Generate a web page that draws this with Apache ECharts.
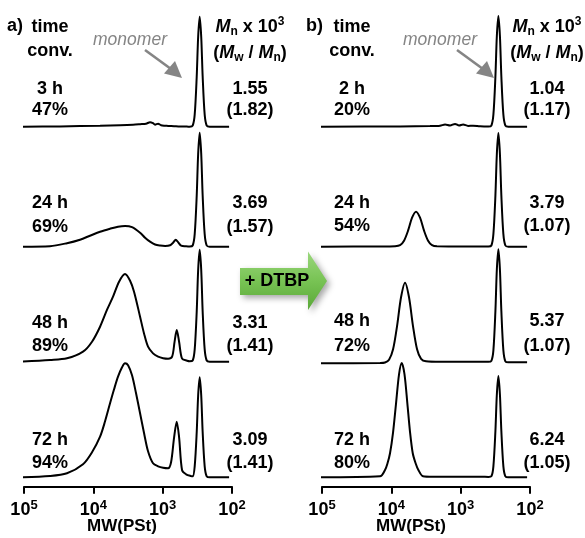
<!DOCTYPE html>
<html><head><meta charset="utf-8">
<script src="https://cdn.jsdelivr.net/npm/echarts@6/dist/echarts.min.js"></script>
<style>html,body{margin:0;padding:0;background:#fff}#c{width:585px;height:538px}</style>
</head><body><div id="c"></div>
<script>
// ---------- data (x = log10 MW, y = relative RI intensity) ----------
const tickExponents = [5, 4, 3, 2];
const axisTitle = 'MW(PSt)';

const timesA = ['3 h', '24 h', '48 h', '72 h'];
const convA  = ['47%', '69%', '89%', '94%'];
const mnA    = ['1.55', '3.69', '3.31', '3.09'];
const pdiA   = ['(1.82)', '(1.57)', '(1.41)', '(1.41)'];

const timesB = ['2 h', '24 h', '48 h', '72 h'];
const convB  = ['20%', '54%', '72%', '80%'];
const mnB    = ['1.04', '3.79', '5.37', '6.24'];
const pdiB   = ['(1.17)', '(1.07)', '(1.07)', '(1.05)'];

const a3h = [[5.058,0],[4.481,0.003],[3.903,0.01],[3.615,0.015],[3.427,0.02],[3.326,0.025],[3.240,0.03],[3.182,0.045],[3.139,0.035],[3.110,0.02],[3.066,0.03],[3.023,0.015],[2.980,0.01],[2.922,0.008],[2.835,0.005],[2.749,0.002],[2.650,0.001],
  [2.610,0],[2.567,0.011],[2.538,0.12],[2.509,0.50],[2.488,0.90],[2.466,1.10],[2.444,0.90],[2.423,0.50],[2.394,0.12],[2.365,0.011],[2.322,0],[2.042,0]];
const a24h = [[5.058,0],[4.625,0.005],[4.380,0.035],[4.192,0.07],[4.048,0.11],[3.903,0.15],[3.759,0.18],[3.644,0.20],[3.543,0.207],[3.442,0.195],[3.326,0.14],[3.254,0.09],[3.182,0.05],[3.110,0.022],[3.037,0.012],[2.965,0.008],[2.893,0.015],[2.850,0.04],[2.811,0.07],[2.778,0.045],[2.734,0.01],[2.662,0.004],
  [2.610,0.002],[2.567,0.012],[2.538,0.125],[2.509,0.51],[2.488,0.93],[2.466,1.14],[2.444,0.93],[2.423,0.51],[2.394,0.125],[2.365,0.012],[2.322,0],[2.042,0]];
const a48h = [[5.058,0],[4.625,0.017],[4.380,0.034],[4.149,0.10],[4.019,0.20],[3.903,0.35],[3.802,0.52],[3.716,0.65],[3.629,0.80],[3.543,0.877],[3.470,0.81],[3.413,0.70],[3.326,0.45],[3.268,0.28],[3.211,0.15],[3.139,0.083],[3.066,0.05],[2.994,0.035],[2.922,0.03],[2.864,0.05],[2.828,0.20],[2.797,0.317],[2.763,0.20],[2.720,0.03],[2.648,0.01],
  [2.610,0.005],[2.567,0.012],[2.538,0.123],[2.509,0.50],[2.488,0.92],[2.466,1.12],[2.444,0.92],[2.423,0.50],[2.394,0.123],[2.365,0.012],[2.322,0],[2.042,0]];
const a72h = [[5.058,0],[4.625,0.013],[4.380,0.04],[4.149,0.13],[4.019,0.25],[3.903,0.406],[3.831,0.56],[3.759,0.74],[3.701,0.88],[3.644,1.006],[3.586,1.10],[3.543,1.14],[3.499,1.12],[3.442,1.02],[3.384,0.84],[3.326,0.64],[3.268,0.44],[3.211,0.26],[3.139,0.14],[3.066,0.11],[2.994,0.095],[2.922,0.09],[2.879,0.15],[2.835,0.40],[2.797,0.556],[2.763,0.40],[2.720,0.07],[2.662,0.03],[2.590,0.012],
  [2.567,0.01],[2.538,0.11],[2.509,0.45],[2.488,0.82],[2.466,1.00],[2.444,0.82],[2.423,0.45],[2.394,0.11],[2.365,0.01],[2.322,0],[2.042,0]];

const b2h = [[5.058,0],[3.874,0.003],[3.442,0.006],[3.297,0.01],[3.225,0.022],[3.153,0.012],[3.081,0.028],[3.023,0.012],[2.965,0.022],[2.893,0.008],[2.821,0.01],[2.720,0.004],
  [2.600,0.002],[2.557,0.011],[2.528,0.12],[2.499,0.50],[2.478,0.91],[2.456,1.107],[2.434,0.91],[2.413,0.50],[2.384,0.12],[2.355,0.011],[2.312,0],[2.042,0]];
const b24h = [[5.058,0],[4.163,0.002],[3.947,0.005],[3.874,0.015],[3.817,0.06],[3.759,0.16],[3.701,0.29],[3.644,0.35],[3.586,0.29],[3.528,0.16],[3.470,0.06],[3.413,0.015],[3.341,0.004],[3.009,0.003],
  [2.600,0.003],[2.557,0.012],[2.528,0.125],[2.499,0.51],[2.478,0.93],[2.456,1.137],[2.434,0.93],[2.413,0.51],[2.384,0.125],[2.355,0.012],[2.312,0],[2.042,0]];
const b48h = [[5.058,0],[4.163,0.003],[4.091,0.008],[4.033,0.035],[3.975,0.14],[3.918,0.37],[3.860,0.66],[3.802,0.806],[3.745,0.66],[3.687,0.37],[3.629,0.14],[3.571,0.045],[3.499,0.02],[3.297,0.015],[2.893,0.015],[2.650,0.015],
  [2.600,0.015],[2.557,0.025],[2.528,0.13],[2.499,0.52],[2.478,0.94],[2.456,1.14],[2.434,0.94],[2.413,0.52],[2.384,0.13],[2.355,0.02],[2.312,0.01],[2.042,0.01]];
const b72h = [[5.058,0],[4.163,0.01],[4.091,0.073],[4.055,0.14],[4.019,0.24],[3.975,0.45],[3.932,0.74],[3.889,1.03],[3.850,1.143],[3.810,1.03],[3.769,0.74],[3.730,0.45],[3.691,0.24],[3.650,0.14],[3.610,0.073],[3.543,0.01],[3.400,0.005],[2.700,0.005],
  [2.600,0.004],[2.557,0.01],[2.528,0.11],[2.499,0.46],[2.478,0.83],[2.456,1.013],[2.434,0.83],[2.413,0.46],[2.384,0.11],[2.355,0.01],[2.312,0],[2.042,0]];

// ---------- layout ----------
const FF = "'Liberation Sans', Arial, Helvetica, sans-serif";
const panels = [
  { left: 24, bases: [126.7, 246.7, 361.7, 477.3], traces: [a3h, a24h, a48h, a72h],
    labX: 50, valX: 250, times: timesA, conv: convA, mn: mnA, pdi: pdiA, tag: 'a)', tagX: 7,
    rows: [[89.5, 110.5], [203.5, 227], [323, 346.5], [440, 463]], monoX: 130, arrowDx: 0, titleX: 122 },
  { left: 322, bases: [126.7, 246.7, 363.3, 477.3], traces: [b2h, b24h, b48h, b72h],
    labX: 352, valX: 547, times: timesB, conv: convB, mn: mnB, pdi: pdiB, tag: 'b)', tagX: 306,
    rows: [[89.5, 110.5], [203.5, 226.5], [321.5, 346], [440, 463]], monoX: 440, arrowDx: 312, titleX: 411 }
];

const grid = [], xAxis = [], yAxis = [], series = [], graphic = [];
let gi = 0;
panels.forEach(p => {
  p.traces.forEach((tr, i) => {
    grid.push({ left: p.left, width: 208, top: p.bases[i] - 100, height: 100, outerBoundsMode: 'none' });
    const bottom = i === p.traces.length - 1;
    xAxis.push({
      gridIndex: gi, type: 'value', min: 2, max: 5, interval: 1, inverse: true, show: bottom,
      offset: bottom ? 9.4 : 0,
      axisLine: { show: true, onZero: false, lineStyle: { color: '#000', width: 2 } },
      axisTick: { show: true, inside: false, length: 7, lineStyle: { color: '#000', width: 2 } },
      splitLine: { show: false }, minorTick: { show: false },
      axisLabel: {
        show: true, margin: 12, color: '#000', fontSize: 18, fontWeight: 'bold', fontFamily: FF, lineHeight: 22,
        formatter: v => '10{s|' + v + '}',
        rich: { s: { fontSize: 13, fontWeight: 'bold', fontFamily: FF, color: '#000', verticalAlign: 'top', lineHeight: 16 } }
      }
    });
    yAxis.push({ gridIndex: gi, type: 'value', min: 0, max: 1, show: false, splitLine: { show: false } });
    series.push({
      type: 'line', xAxisIndex: gi, yAxisIndex: gi, data: tr, smooth: 0.3, showSymbol: false, symbol: 'none',
      clip: false, silent: true, animation: false, lineStyle: { color: '#000', width: 2 }
    });
    gi++;
  });
});

function txt(x, y, text, o) {
  return { type: 'text', x: x, y: y, z: 100, silent: true,
    style: Object.assign({ text: text, fill: '#000', fontFamily: FF, fontSize: 18, fontWeight: 'bold',
      align: 'center', textAlign: 'center', verticalAlign: 'middle', textVerticalAlign: 'middle' }, o || {}) };
}
const hdrRich = {
  M:   { fontStyle: 'italic', fontWeight: 'bold', fontSize: 18, fontFamily: FF, lineHeight: 22, fill: '#000', color: '#000' },
  sub: { fontWeight: 'bold', fontSize: 12, fontFamily: FF, verticalAlign: 'bottom', lineHeight: 16, fill: '#000', color: '#000' },
  sup: { fontWeight: 'bold', fontSize: 12, fontFamily: FF, verticalAlign: 'top', lineHeight: 18, fill: '#000', color: '#000' }
};

panels.forEach(p => {
  graphic.push(txt(p.tagX, 26, p.tag, { align: 'left', textAlign: 'left' }));
  graphic.push(txt(p.labX, 27, 'time'));
  graphic.push(txt(p.labX, 51, 'conv.'));
  graphic.push(txt(p.valX, 27, '{M|M}{sub|n} x 10{sup|3}', { rich: hdrRich, lineHeight: 22 }));
  graphic.push(txt(p.valX, 53, '({M|M}{sub|w} / {M|M}{sub|n})', { rich: hdrRich, lineHeight: 22 }));
  graphic.push(txt(p.monoX, 40, 'monomer', { fontWeight: 'normal', fontStyle: 'italic', fontSize: 17.5, fill: '#858585' }));
  // monomer arrow
  graphic.push({ type: 'line', z: 100, silent: true, shape: { x1: 145 + p.arrowDx, y1: 50, x2: 171 + p.arrowDx, y2: 69 },
    style: { stroke: '#858585', lineWidth: 2.6 } });
  graphic.push({ type: 'polygon', z: 100, silent: true,
    shape: { points: [[175 + p.arrowDx, 61], [182 + p.arrowDx, 78], [164 + p.arrowDx, 73.5]] },
    style: { fill: '#858585' } });
  p.rows.forEach((r, i) => {
    graphic.push(txt(p.labX, r[0], p.times[i]));
    graphic.push(txt(p.labX, r[1], p.conv[i]));
    graphic.push(txt(p.valX, r[0], p.mn[i]));
    graphic.push(txt(p.valX, r[1], p.pdi[i]));
  });
  graphic.push(txt(p.titleX, 526, axisTitle, { fontSize: 17 }));
});

// green "+ DTBP" block arrow
graphic.push({ type: 'polygon', z: 90, silent: true,
  shape: { points: [[240, 268], [308, 268], [308, 251.5], [327, 281], [308, 310], [308, 295], [240, 295]] },
  style: {
    fill: { type: 'linear', x: 0, y: 0, x2: 0, y2: 1, colorStops: [
      { offset: 0, color: '#9ad77c' }, { offset: 0.5, color: '#78c354' }, { offset: 1, color: '#5aa838' }] },
    shadowBlur: 6, shadowOffsetX: 3, shadowOffsetY: 3, shadowColor: 'rgba(0,0,0,0.35)'
  } });
graphic.push(txt(277, 281.5, '+ DTBP', { fontSize: 18 }));

const chart = echarts.init(document.getElementById('c'), null, { renderer: 'canvas' });
chart.setOption({
  animation: false,
  backgroundColor: '#fff',
  grid: grid, xAxis: xAxis, yAxis: yAxis, series: series, graphic: graphic
});
</script></body></html>
